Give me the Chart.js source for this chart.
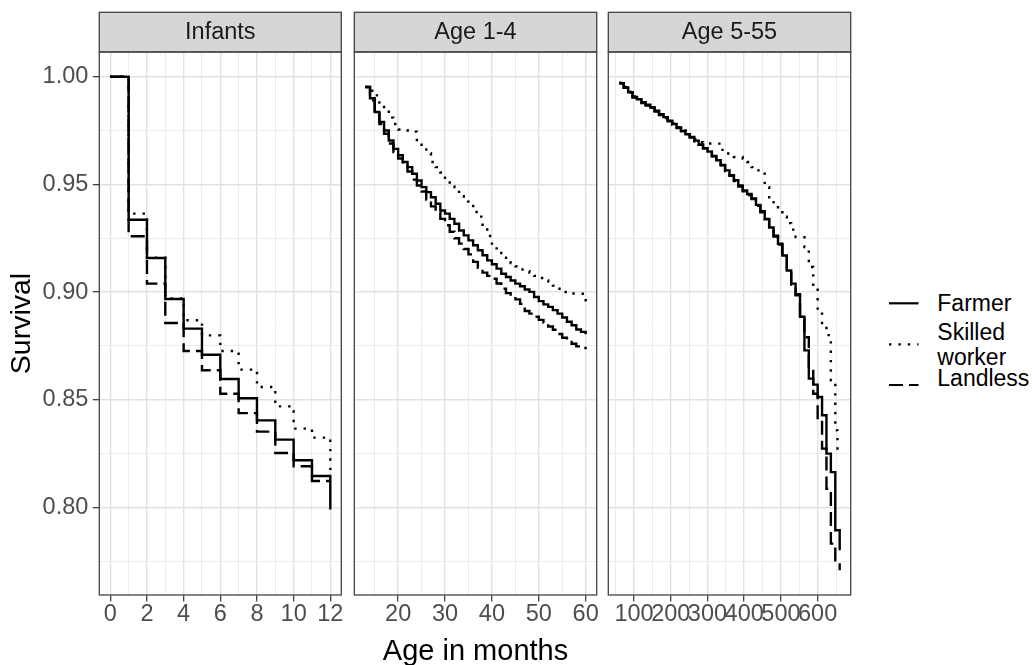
<!DOCTYPE html>
<html>
<head>
<meta charset="utf-8">
<script src="https://cdn.jsdelivr.net/npm/chart.js"></script>
<style>
  html, body { margin: 0; padding: 0; background: #ffffff; }
  #wrap { position: relative; width: 1032px; height: 665px; overflow: hidden; background: #ffffff;
          font-family: "Liberation Sans", Arial, Helvetica, sans-serif; }
  #wrap canvas { position: absolute; top: 0; }
  .lgText { position: absolute; font-size: 23px; line-height: 25px; color: #000; white-space: pre-line; }
</style>
</head>
<body>
<div id="wrap">
  <canvas id="c1" width="346" height="665" style="left:0px"></canvas>
  <canvas id="c2" width="250" height="665" style="left:350px"></canvas>
  <canvas id="c3" width="250" height="665" style="left:604px"></canvas>
  <div id="legend"></div>
</div>
<script>
// ---------------- data ----------------
const seriesNames = ['Farmer', 'Skilled worker', 'Landless'];
const legendLabels = ['Farmer', 'Skilled\nworker', 'Landless'];
const panelTitles = ['Infants', 'Age 1-4', 'Age 5-55'];
const yAxisTitle = 'Survival';
const xAxisTitle = 'Age in months';

const yMajorTicks = [0.80, 0.85, 0.90, 0.95, 1.00];
const yMinorTicks = [0.775, 0.825, 0.875, 0.925, 0.975];

// Infants panel
const infantMonths = [0, 1, 2, 3, 4, 5, 6, 7, 8, 9, 10, 11, 12];
const infantFarmer   = [1.0, 0.9336, 0.9158, 0.8968, 0.8830, 0.8709, 0.8596, 0.8507, 0.8404, 0.8315, 0.8219, 0.8146, 0.7990];
const infantSkilled  = [1.0, 0.9364, 0.9160, 0.8970, 0.8869, 0.8799, 0.8726, 0.8640, 0.8559, 0.8469, 0.8366, 0.8324, 0.8154];
const infantLandless = [1.0, 0.9259, 0.9039, 0.8856, 0.8726, 0.8637, 0.8528, 0.8438, 0.8352, 0.8253, 0.8191, 0.8123, 0.8123];
const infantMajorTicks = [0, 2, 4, 6, 8, 10, 12];
const infantMinorTicks = [1, 3, 5, 7, 9, 11];

// Age 1-4 panel
const childMonths = [13, 14, 15, 16, 17, 18, 19, 20, 21, 22, 23, 24, 25, 26, 27, 28, 29, 30, 31, 32,
                     33, 34, 35, 36, 37, 38, 39, 40, 41, 42, 43, 44, 45, 46, 47, 48, 49, 50, 51, 52,
                     53, 54, 55, 56, 57, 58, 59, 60];
const childFarmer = [0.9952, 0.9900, 0.9836, 0.9790, 0.9750, 0.9704, 0.9665, 0.9635, 0.9604, 0.9580,
                     0.9549, 0.9518, 0.9487, 0.9464, 0.9440, 0.9410, 0.9379, 0.9364, 0.9340, 0.9317,
                     0.9286, 0.9263, 0.9240, 0.9217, 0.9194, 0.9171, 0.9147, 0.9129, 0.9109, 0.9085,
                     0.9070, 0.9054, 0.9039, 0.9027, 0.9012, 0.9001, 0.8977, 0.8958, 0.8943, 0.8931,
                     0.8916, 0.8900, 0.8882, 0.8862, 0.8846, 0.8826, 0.8815, 0.8804];
const childSkilled = [0.9952, 0.9935, 0.9913, 0.9880, 0.9850, 0.9810, 0.9780, 0.9755, 0.9752, 0.9750,
                      0.9745, 0.9700, 0.9670, 0.9645, 0.9604, 0.9580, 0.9555, 0.9520, 0.9490, 0.9465,
                      0.9445, 0.9420, 0.9400, 0.9372, 0.9350, 0.9300, 0.9260, 0.9225, 0.9190, 0.9160,
                      0.9145, 0.9135, 0.9120, 0.9105, 0.9097, 0.9090, 0.9075, 0.9065, 0.9054, 0.9042,
                      0.9030, 0.9015, 0.9000, 0.8995, 0.8993, 0.8992, 0.8992, 0.8946];
const childLandless = [0.9952, 0.9890, 0.9830, 0.9780, 0.9735, 0.9690, 0.9650, 0.9620, 0.9596, 0.9560,
                       0.9522, 0.9495, 0.9467, 0.9430, 0.9398, 0.9370, 0.9340, 0.9310, 0.9280, 0.9250,
                       0.9225, 0.9200, 0.9175, 0.9140, 0.9113, 0.9090, 0.9075, 0.9062, 0.9040, 0.9015,
                       0.8995, 0.8980, 0.8966, 0.8945, 0.8912, 0.8900, 0.8885, 0.8871, 0.8858, 0.8840,
                       0.8825, 0.8805, 0.8788, 0.8775, 0.8760, 0.8748, 0.8740, 0.8735];
const childMajorTicks = [20, 30, 40, 50, 60];
const childMinorTicks = [15, 25, 35, 45, 55];

// Age 5-55 panel
const adultMonths = [60, 72, 84, 96, 108, 120, 132, 144, 156, 168, 180, 192, 204, 216, 228, 240, 252,
                     264, 276, 288, 300, 312, 324, 336, 348, 360, 372, 384, 396, 408, 420, 432, 444,
                     456, 468, 480, 492, 504, 516, 528, 540, 552, 564, 576, 588, 600, 612, 624, 636,
                     648, 660];
const adultFarmer = [0.9970, 0.9950, 0.9928, 0.9906, 0.9895, 0.9882, 0.9870, 0.9858, 0.9842, 0.9826,
                     0.9812, 0.9796, 0.9780, 0.9764, 0.9748, 0.9733, 0.9720, 0.9703, 0.9685, 0.9668,
                     0.9652, 0.9632, 0.9612, 0.9590, 0.9565, 0.9542, 0.9519, 0.9495, 0.9472, 0.9455,
                     0.9435, 0.9405, 0.9375, 0.9340, 0.9300, 0.9262, 0.9224, 0.9170, 0.9100, 0.9039,
                     0.8990, 0.8885, 0.8729, 0.8598, 0.8570, 0.8513, 0.8428, 0.8250, 0.8164, 0.7894,
                     0.7801];
const adultLandless = [0.9968, 0.9948, 0.9925, 0.9903, 0.9890, 0.9878, 0.9866, 0.9852, 0.9838, 0.9822,
                       0.9808, 0.9793, 0.9778, 0.9762, 0.9747, 0.9732, 0.9717, 0.9700, 0.9684, 0.9667,
                       0.9650, 0.9630, 0.9610, 0.9588, 0.9562, 0.9540, 0.9515, 0.9490, 0.9468, 0.9450,
                       0.9432, 0.9400, 0.9370, 0.9338, 0.9296, 0.9258, 0.9220, 0.9165, 0.9095, 0.9035,
                       0.8985, 0.8875, 0.8790, 0.8652, 0.8528, 0.8404, 0.8273, 0.8087, 0.7832, 0.7754,
                       0.7708];
const adultSkilledMonths = [60, 72, 84, 96, 108, 120, 132, 144, 156, 168, 180, 192, 204, 216, 228, 240, 252,
                            264, 276, 288, 300, 312, 324, 336, 348, 360, 372, 384, 396, 408, 420, 432, 444,
                            456, 468, 480, 492, 504, 516, 528, 540, 552, 564, 576, 588, 600, 612, 624, 636,
                            648, 654];
const adultSkilled = [0.9972, 0.9952, 0.9930, 0.9908, 0.9893, 0.9880, 0.9868, 0.9855, 0.9840, 0.9826,
                      0.9810, 0.9797, 0.9782, 0.9766, 0.9750, 0.9735, 0.9722, 0.9708, 0.9696, 0.9692,
                      0.9690, 0.9690, 0.9689, 0.9660, 0.9643, 0.9635, 0.9627, 0.9627, 0.9620, 0.9604,
                      0.9580, 0.9565, 0.9550, 0.9487, 0.9440, 0.9410, 0.9385, 0.9350, 0.9320, 0.9290,
                      0.9255, 0.9255, 0.9209, 0.9116, 0.9020, 0.8900, 0.8846, 0.8800, 0.8590, 0.8358,
                      0.8250];
const adultMajorTicks = [100, 200, 300, 400, 500, 600];
const adultMinorTicks = [50, 150, 250, 350, 450, 550, 650];

// ---------------- styling ----------------
const FONT = '"Liberation Sans", Arial, Helvetica, sans-serif';
const lineDash = { 'Farmer': [], 'Skilled worker': [2.4, 7], 'Landless': [14, 6] };
const LINE_W = 2.4;
const GRID_MAJOR = '#e2e2e2', GRID_MINOR = '#ececec';
const BORDER_C = '#444444';
const TICK_SIZE = 23.5;

function pts(xs, ys) { return xs.map((x, i) => ({ x: x, y: ys[i] })); }
function expand(arr) {
  const lo = Math.min.apply(null, arr), hi = Math.max.apply(null, arr), p = (hi - lo) * 0.05;
  return [lo - p, hi + p];
}
const yRange = expand([].concat(infantFarmer, infantSkilled, infantLandless,
                                childFarmer, childSkilled, childLandless,
                                adultFarmer, adultSkilled, adultLandless));

const stripPlugin = {
  id: 'strip',
  afterDraw(chart, args, opts) {
    const ctx = chart.ctx, a = chart.chartArea;
    const top = 12.3;
    ctx.save();
    ctx.fillStyle = '#d6d6d6';
    ctx.fillRect(a.left, top, a.right - a.left, a.top - top);
    ctx.strokeStyle = BORDER_C;
    ctx.lineWidth = 1.3;
    ctx.strokeRect(a.left, top, a.right - a.left, a.top - top);
    ctx.strokeRect(a.left, a.top, a.right - a.left, a.bottom - a.top);
    ctx.fillStyle = '#1a1a1a';
    ctx.font = TICK_SIZE + 'px ' + FONT;
    ctx.textAlign = 'center';
    ctx.textBaseline = 'middle';
    ctx.fillText(opts.text, (a.left + a.right) / 2, 33);
    ctx.restore();
  }
};

function isIn(list, c) { return c && c.tick && list.indexOf(c.tick.value) !== -1; }

function makePanel(id, title, series, major, minor, o) {
  const xRange = expand([].concat.apply([], series.map(s => s.x)));
  const xTicks = minor.concat(major).sort((a, b) => a - b);
  const yTicks = yMinorTicks.concat(yMajorTicks).sort((a, b) => a - b);
  return new Chart(document.getElementById(id), {
    type: 'line',
    data: {
      datasets: series.map(s => ({
        label: s.name,
        data: pts(s.x, s.y),
        stepped: 'before',
        borderColor: '#000000',
        borderWidth: LINE_W,
        borderDash: lineDash[s.name],
        borderCapStyle: 'butt',
        pointRadius: 0,
        fill: false
      }))
    },
    options: {
      responsive: false,
      animation: false,
      events: [],
      layout: { padding: { top: 52, bottom: 0, left: o.padLeft, right: o.padRight } },
      plugins: { legend: { display: false }, tooltip: { enabled: false }, strip: { text: title } },
      scales: {
        x: {
          type: 'linear',
          min: xRange[0], max: xRange[1],
          afterBuildTicks: s => { s.ticks = xTicks.map(v => ({ value: v })); },
          afterFit: s => { s.height = 70; },
          ticks: {
            autoSkip: false, maxRotation: 0, minRotation: 0, padding: 0,
            color: '#4d4d4d',
            font: { family: FONT, size: TICK_SIZE, lineHeight: 1.1 },
            callback: v => (major.indexOf(v) !== -1 ? String(v) : '')
          },
          grid: {
            color: c => (isIn(major, c) ? GRID_MAJOR : GRID_MINOR),
            lineWidth: c => (isIn(major, c) ? 1.4 : 1.0),
            drawTicks: true, tickLength: 6.5, tickWidth: 1.2,
            tickColor: c => (isIn(major, c) ? '#333333' : 'rgba(0,0,0,0)')
          },
          border: { display: false },
          title: {
            display: !!o.xTitle, text: xAxisTitle, color: '#000000',
            font: { family: FONT, size: 29, lineHeight: 1.0 },
            padding: { top: 0, bottom: -1.4 }
          }
        },
        y: {
          type: 'linear',
          min: yRange[0], max: yRange[1],
          afterBuildTicks: s => { s.ticks = yTicks.map(v => ({ value: v })); },
          afterFit: s => { s.width = o.yWidth; },
          ticks: {
            display: o.showY, padding: 4.5,
            color: '#4d4d4d',
            font: { family: FONT, size: TICK_SIZE, lineHeight: 1.2 },
            callback: v => (yMajorTicks.indexOf(v) !== -1 ? v.toFixed(2) : '')
          },
          grid: {
            color: c => (isIn(yMajorTicks, c) ? GRID_MAJOR : GRID_MINOR),
            lineWidth: c => (isIn(yMajorTicks, c) ? 1.4 : 1.0),
            drawTicks: o.showY, tickLength: 6.5, tickWidth: 1.2,
            tickColor: c => (isIn(yMajorTicks, c) ? '#333333' : 'rgba(0,0,0,0)')
          },
          border: { display: false },
          title: {
            display: o.showY, text: yAxisTitle, color: '#000000',
            font: { family: FONT, size: 28.5, lineHeight: 1.2 },
            padding: { top: 5.2, bottom: 0 }
          }
        }
      }
    },
    plugins: [stripPlugin]
  });
}

makePanel('c1', panelTitles[0], [
  { name: seriesNames[0], x: infantMonths, y: infantFarmer },
  { name: seriesNames[1], x: infantMonths, y: infantSkilled },
  { name: seriesNames[2], x: infantMonths, y: infantLandless }
], infantMajorTicks, infantMinorTicks, { padLeft: 0, padRight: 4.7, yWidth: 99.3, showY: true });

makePanel('c2', panelTitles[1], [
  { name: seriesNames[0], x: childMonths, y: childFarmer },
  { name: seriesNames[1], x: childMonths, y: childSkilled },
  { name: seriesNames[2], x: childMonths, y: childLandless }
], childMajorTicks, childMinorTicks, { padLeft: 4.3, padRight: 3.3, yWidth: 0, showY: false, xTitle: true });

makePanel('c3', panelTitles[2], [
  { name: seriesNames[0], x: adultMonths, y: adultFarmer },
  { name: seriesNames[1], x: adultSkilledMonths, y: adultSkilled },
  { name: seriesNames[2], x: adultMonths, y: adultLandless }
], adultMajorTicks, adultMinorTicks, { padLeft: 4.3, padRight: 3.3, yWidth: 0, showY: false });

// ---------------- legend ----------------
(function buildLegend() {
  const keyY = [303.3, 344.3, 385];
  const textTop = [291.3, 319.6, 366.3];
  const wrap = document.getElementById('legend');
  let svg = '<svg style="position:absolute;left:880px;top:280px" width="50" height="130">';
  seriesNames.forEach((n, i) => {
    const y = keyY[i] - 280;
    svg += '<line x1="9" y1="' + y + '" x2="38.5" y2="' + y + '" stroke="#000" stroke-width="2.2"' +
           (lineDash[n].length ? ' stroke-dasharray="' + lineDash[n].join(' ') + '"' : '') + '/>';
  });
  svg += '</svg>';
  let html = svg;
  legendLabels.forEach((t, i) => {
    html += '<div class="lgText" style="left:937.3px;top:' + textTop[i] + 'px">' + t + '</div>';
  });
  wrap.innerHTML = html;
})();
</script>
</body>
</html>
